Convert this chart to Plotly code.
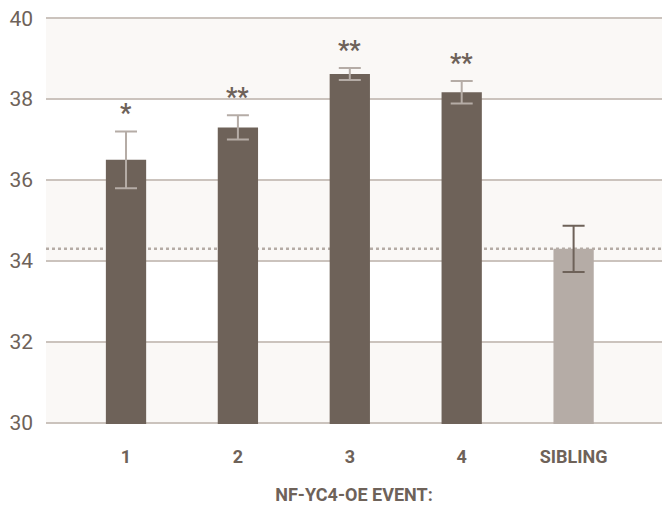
import plotly.graph_objects as go

# ---- data ----
events = ["1", "2", "3", "4"]
event_values = [36.5, 37.3, 38.62, 38.17]
event_err_plus = [0.7, 0.3, 0.15, 0.28]
event_err_minus = [0.7, 0.3, 0.15, 0.28]
event_stars = ["*", "**", "**", "**"]

sibling = ["SIBLING"]
sibling_values = [34.3]
sibling_err_plus = [0.57]
sibling_err_minus = [0.57]

y_ticks = [30, 32, 34, 36, 38, 40]
x_title = "NF-YC4-OE EVENT:"

# ---- styles ----
DARK = "#6e6259"
LIGHT = "#b5aca6"
BAND = "#faf8f6"
GRID = "#cbc3bd"
FONT = "Roboto, sans-serif"

fig = go.Figure()
fig.add_trace(go.Bar(
    x=events, y=event_values, width=0.36,
    marker=dict(color=DARK, line=dict(width=0)),
    error_y=dict(type="data", symmetric=False, array=event_err_plus,
                 arrayminus=event_err_minus, color=LIGHT, thickness=2, width=11),
    showlegend=False, hoverinfo="skip",
))
fig.add_trace(go.Bar(
    x=sibling, y=sibling_values, width=0.36,
    marker=dict(color=LIGHT, line=dict(width=0)),
    error_y=dict(type="data", symmetric=False, array=sibling_err_plus,
                 arrayminus=sibling_err_minus, color=DARK, thickness=2, width=11),
    showlegend=False, hoverinfo="skip",
))

# alternating background bands
shapes = []
for i in range(len(y_ticks) - 1):
    if i % 2 == 0:
        shapes.append(dict(type="rect", xref="paper", yref="y", x0=0, x1=1,
                           y0=y_ticks[i], y1=y_ticks[i + 1],
                           fillcolor=BAND, line=dict(width=0), layer="below"))
# dotted reference line at sibling mean
shapes.append(dict(type="line", xref="paper", yref="y", x0=0, x1=1,
                   y0=sibling_values[0], y1=sibling_values[0],
                   line=dict(color=LIGHT, width=2.5, dash="dot"), layer="between"))

annotations = []
for idx, (v, e, s) in enumerate(zip(event_values, event_err_plus, event_stars)):
    annotations.append(dict(x=idx, xref="x", y=v + e, yref="y", text=s,
                            showarrow=False, yanchor="bottom", yshift=1,
                            font=dict(family=FONT, size=25, color=DARK, weight="bold")))

fig.update_layout(
    width=668, height=508,
    margin=dict(l=46, r=6, t=17, b=84),
    paper_bgcolor="white", plot_bgcolor="white",
    barmode="overlay",
    shapes=shapes, annotations=annotations,
    font=dict(family=FONT, color=DARK),
    xaxis=dict(type="category", categoryorder="array",
               categoryarray=events + sibling, automargin=False,
               range=[-0.715, 4.79], showgrid=False, zeroline=False,
               showline=False, ticks="",
               tickfont=dict(family=FONT, size=18, color=DARK, weight="bold"),
               ticklabelstandoff=20,
               title=dict(text=x_title, standoff=22,
                          font=dict(family=FONT, size=18, color=DARK, weight="bold"))),
    yaxis=dict(range=[29.97, 40.03], tickvals=y_ticks, showgrid=True, automargin=False,
               gridcolor=GRID, gridwidth=1.5, zeroline=False, showline=False,
               ticks="", ticklabelstandoff=12,
               tickfont=dict(family=FONT, size=21, color=DARK)),
)

fig.write_html("out.html", config={"displayModeBar": False},
               post_script="document.body.style.margin='0';")
